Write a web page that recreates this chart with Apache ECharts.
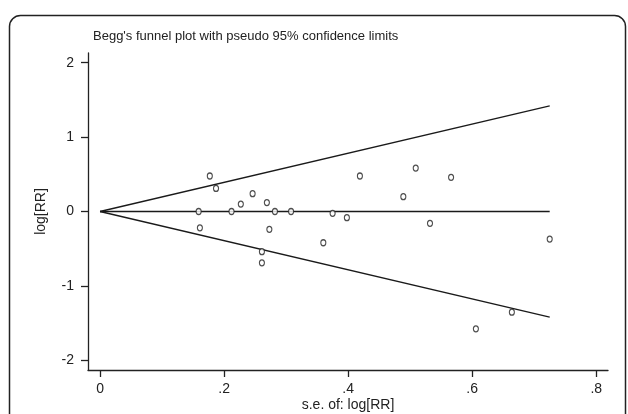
<!DOCTYPE html>
<html>
<head>
<meta charset="utf-8">
<script src="https://cdn.jsdelivr.net/npm/echarts@6/dist/echarts.min.js"></script>
<style>
html,body{margin:0;padding:0;background:#fff;}
#c{width:628px;height:414px;}
</style>
</head>
<body>
<div id="c"></div>
<script>
// Study points: standard error of log[RR], log[RR]
const seValues = [0.177, 0.187, 0.159, 0.161, 0.212, 0.227, 0.246, 0.269, 0.273, 0.282, 0.308, 0.261, 0.261, 0.360, 0.375, 0.398, 0.419, 0.509, 0.566, 0.489, 0.532, 0.725, 0.664, 0.606];
const logRR    = [0.477, 0.31, 0.0, -0.22, 0.0, 0.10, 0.24, 0.12, -0.24, 0.0, 0.0, -0.54, -0.69, -0.42, -0.025, -0.083, 0.477, 0.584, 0.459, 0.199, -0.159, -0.37, -1.353, -1.577];
// Funnel (pseudo 95% limits) and pooled line endpoints
const limitX = [0, 0.725];
const upperY = [0, 1.42];
const lowerY = [0, -1.42];
const centerY = [0, 0];
// Tick labels
const xTicks = [0, 0.2, 0.4, 0.6, 0.8];
const xTickLabels = ['0', '.2', '.4', '.6', '.8'];
const yTicks = [-2, -1, 0, 1, 2];
const yTickLabels = ['-2', '-1', '0', '1', '2'];

const FONT = '"Liberation Sans", Arial, sans-serif';
const pts = seValues.map((s, i) => [s, logRR[i]]);
const mkLine = ys => limitX.map((x, i) => [x, ys[i]]);
const lineStyle = {color: '#1a1a1a', width: 1.3};

const chart = echarts.init(document.getElementById('c'), null, {renderer: 'canvas'});
chart.setOption({
  animation: false,
  backgroundColor: '#fff',
  title: {
    text: "Begg's funnel plot with pseudo 95% confidence limits",
    left: 88, top: 25,
    textStyle: {fontFamily: FONT, fontSize: 13, fontWeight: 'normal', color: '#222'}
  },
  graphic: [{
    type: 'rect',
    shape: {x: 9.5, y: 15.5, width: 616, height: 430, r: 11},
    style: {fill: 'none', stroke: '#222', lineWidth: 1.5},
    z: 0
  }],
  grid: {left: 88, right: 20, top: 53, bottom: 44, containLabel: false, outerBoundsMode: 'none'},
  xAxis: {
    type: 'value',
    min: -0.0194, max: 0.819,
    name: 's.e. of: log[RR]',
    nameLocation: 'middle', nameGap: 28, nameMoveOverlap: false,
    nameTextStyle: {fontFamily: FONT, fontSize: 14, color: '#222'},
    axisLine: {show: true, onZero: false, lineStyle: {color: '#222', width: 1.3}},
    axisTick: {show: true, length: 7, customValues: xTicks, lineStyle: {color: '#222', width: 1.3}},
    axisLabel: {
      customValues: xTicks, margin: 12,
      fontFamily: FONT, fontSize: 14, color: '#222',
      formatter: v => { const i = xTicks.findIndex(t => Math.abs(t - v) < 1e-6); return i >= 0 ? xTickLabels[i] : ''; }
    },
    splitLine: {show: false}
  },
  yAxis: {
    type: 'value',
    min: -2.13, max: 2.13,
    name: 'log[RR]',
    nameLocation: 'middle', nameGap: 40, nameMoveOverlap: false,
    nameTextStyle: {fontFamily: FONT, fontSize: 14, color: '#222'},
    axisLine: {show: true, onZero: false, lineStyle: {color: '#222', width: 1.3}},
    axisTick: {show: true, length: 7, customValues: yTicks, lineStyle: {color: '#222', width: 1.3}},
    axisLabel: {
      customValues: yTicks, margin: 14,
      fontFamily: FONT, fontSize: 14, color: '#222',
      formatter: v => { const i = yTicks.findIndex(t => Math.abs(t - v) < 1e-6); return i >= 0 ? yTickLabels[i] : ''; }
    },
    splitLine: {show: false}
  },
  series: [
    {type: 'line', data: mkLine(upperY), symbol: 'none', lineStyle: lineStyle, z: 2},
    {type: 'line', data: mkLine(lowerY), symbol: 'none', lineStyle: lineStyle, z: 2},
    {type: 'line', data: mkLine(centerY), symbol: 'none', lineStyle: lineStyle, z: 2},
    {
      type: 'scatter', data: pts, symbol: 'circle', symbolSize: [5, 6],
      itemStyle: {color: '#fff', borderColor: '#222', borderWidth: 1.2}, z: 3
    }
  ]
});
</script>
</body>
</html>
